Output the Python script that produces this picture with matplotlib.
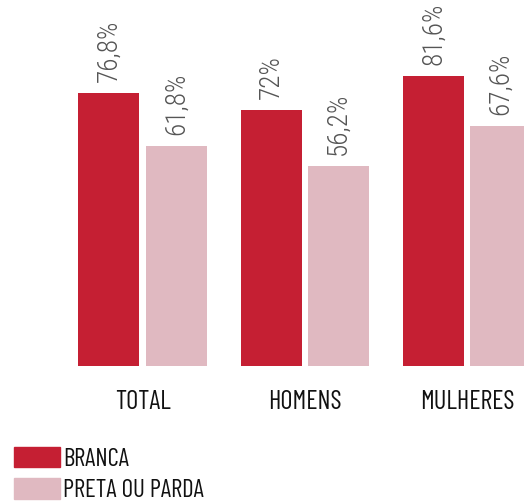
import matplotlib
matplotlib.use("Agg")
import matplotlib.pyplot as plt
import numpy as np
from matplotlib.patches import Patch

categories = ["TOTAL", "HOMENS", "MULHERES"]
branca = [76.8, 72.0, 81.6]
preta = [61.8, 56.2, 67.6]
branca_labels = ["76,8%", "72%", "81,6%"]
preta_labels = ["61,8%", "56,2%", "67,6%"]
series_names = ["BRANCA", "PRETA OU PARDA"]

RED = "#c51f33"
PINK = "#e0b9c1"
VAL_FONT = ["Roboto Condensed", "DejaVu Sans"]
CAT_FONT = ["Barlow Condensed", "DejaVu Sans"]

W, H = 524, 501
fig = plt.figure(figsize=(W / 100, H / 100), dpi=100)
ax = fig.add_axes([0, 135 / H, 1, (H - 135) / H])

x = np.arange(len(categories))
bw = 0.377
off = 0.207
b1 = ax.bar(x - off, branca, bw, color=RED)
b2 = ax.bar(x + off, preta, bw, color=PINK)

for rects, labs in ((b1, branca_labels), (b2, preta_labels)):
    for r, lab in zip(rects, labs):
        ax.annotate(lab, (r.get_x() + r.get_width() / 2, r.get_height()),
                    xytext=(0, 8), textcoords="offset points",
                    rotation=90, ha="center", va="bottom",
                    fontsize=19.5, fontweight=300, color="#555555", family=VAL_FONT)

ax.set_xlim(-142.5 / 162.25, (W - 142.5) / 162.25)
ax.set_ylim(0, 366 / 3.555)
ax.axis("off")

for xi, c in zip(x, categories):
    ax.text(xi, -36 / 366, c, transform=ax.get_xaxis_transform(),
            ha="center", va="center", fontsize=19, color="#111111", family=CAT_FONT)

handles = [Patch(color=RED), Patch(color=PINK)]
leg = fig.legend(handles, series_names, loc="lower left",
                 bbox_to_anchor=(14 / W, -1 / H), frameon=False,
                 prop={"family": CAT_FONT, "size": 18},
                 handlelength=1.85, handleheight=0.88, handletextpad=0.12,
                 labelspacing=0.3, borderpad=0, borderaxespad=0)
for t in leg.get_texts():
    t.set_color("#111111")

fig.savefig("out.png", dpi=100)
